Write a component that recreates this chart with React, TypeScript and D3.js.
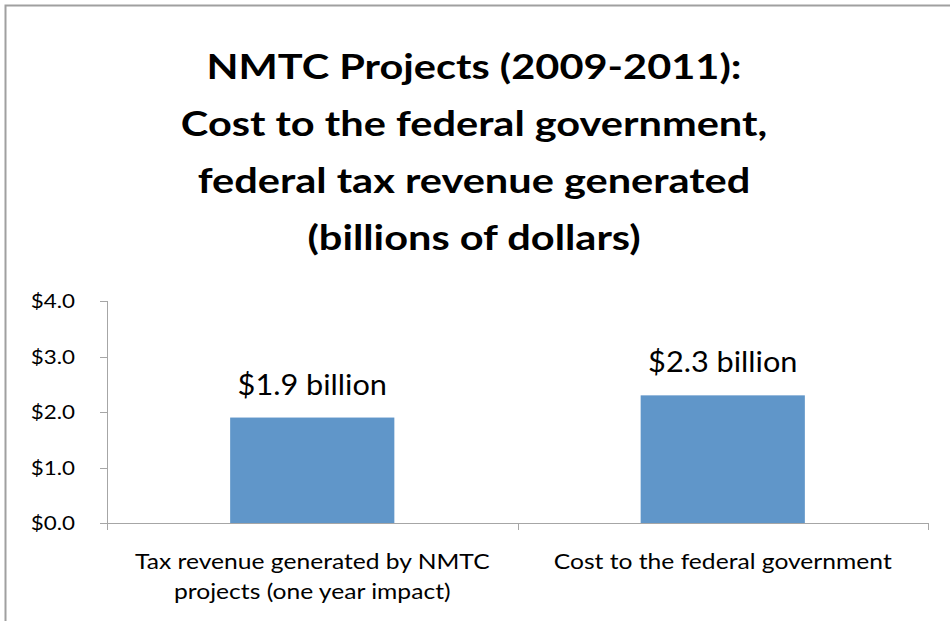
import React from "react";
import * as d3 from "d3";

const categories = ["Tax revenue generated by NMTC|projects (one year impact)", "Cost to the federal government"];
const values = [1.9, 2.3];
const dataLabels = ["$1.9 billion", "$2.3 billion"];
const yTicks = [0, 1, 2, 3, 4];
const titleLines = [
  "NMTC Projects (2009-2011):",
  "Cost to the federal government,",
  "federal tax revenue generated",
  "(billions of dollars)",
];

const FONT = "Lato, 'Open Sans', sans-serif";

function T(props: { x: number; y: number; sx: number; size: number; anchor?: string; bold?: boolean; children: React.ReactNode }) {
  return (
    <g transform={`translate(${props.x},${props.y}) scale(${props.sx},1)`}>
      <text x={0} y={0} textAnchor={props.anchor || "middle"} fontSize={props.size} fontWeight={props.bold ? "bold" : "normal"} fill="#000">
        {props.children}
      </text>
    </g>
  );
}

export default function App() {
  const W = 950, H = 621;
  const left = 107, right = 928, top = 301, bottom = 523;
  const x = d3.scaleBand<string>().domain(categories).range([left, right]).paddingInner(0.6).paddingOuter(0.3);
  const xOuter = d3.scaleBand<string>().domain(categories).range([left, right]);
  const y = d3.scaleLinear().domain([0, 4]).range([bottom, top]);
  const gray = "#a6a6a6";
  return (
    <svg width={W} height={H} style={{ position: "absolute", left: 0, top: 0 }} fontFamily={FONT}>
      <rect x={0} y={0} width={W} height={H} fill="#fff" />
      <path d={`M5.5,${H} V5.5 H${W}`} fill="none" stroke="#a0a0a0" strokeWidth={2} />
      {titleLines.map((t, i) => (
        <T key={i} x={474} y={79 + i * 57} sx={1.24} size={33.5} bold>{t}</T>
      ))}
      {/* y axis */}
      <line x1={left + 0.5} x2={left + 0.5} y1={top} y2={bottom} stroke={gray} />
      {yTicks.map((t) => (
        <g key={t}>
          <line x1={100} x2={left} y1={Math.round(y(t)) + 0.5} y2={Math.round(y(t)) + 0.5} stroke={gray} />
          <T x={75} y={y(t) + 7} sx={1.12} size={20} anchor="end">{"$" + t.toFixed(1)}</T>
        </g>
      ))}
      {/* bars */}
      {categories.map((c, i) => (
        <rect key={c} x={x(c)} y={y(values[i])} width={x.bandwidth()} height={y(0) - y(values[i])} fill="#6096c9" />
      ))}
      {/* x axis */}
      <line x1={left} x2={right} y1={bottom + 0.5} y2={bottom + 0.5} stroke={gray} />
      {[left, ...categories.map((c) => (xOuter(c) as number) + xOuter.bandwidth())].map((px, i) => (
        <line key={i} x1={Math.round(px) + 0.5} x2={Math.round(px) + 0.5} y1={bottom} y2={bottom + 7} stroke={gray} />
      ))}
      {categories.map((c, i) => (
        <T key={c} x={(x(c) as number) + x.bandwidth() / 2} y={y(values[i]) - 23} sx={1.04} size={29.5}>{dataLabels[i]}</T>
      ))}
      {categories.map((c) =>
        c.split("|").map((ln, j) => (
          <T key={c + j} x={(xOuter(c) as number) + xOuter.bandwidth() / 2} y={569 + j * 29.5} sx={1.12} size={22}>{ln}</T>
        ))
      )}
    </svg>
  );
}
